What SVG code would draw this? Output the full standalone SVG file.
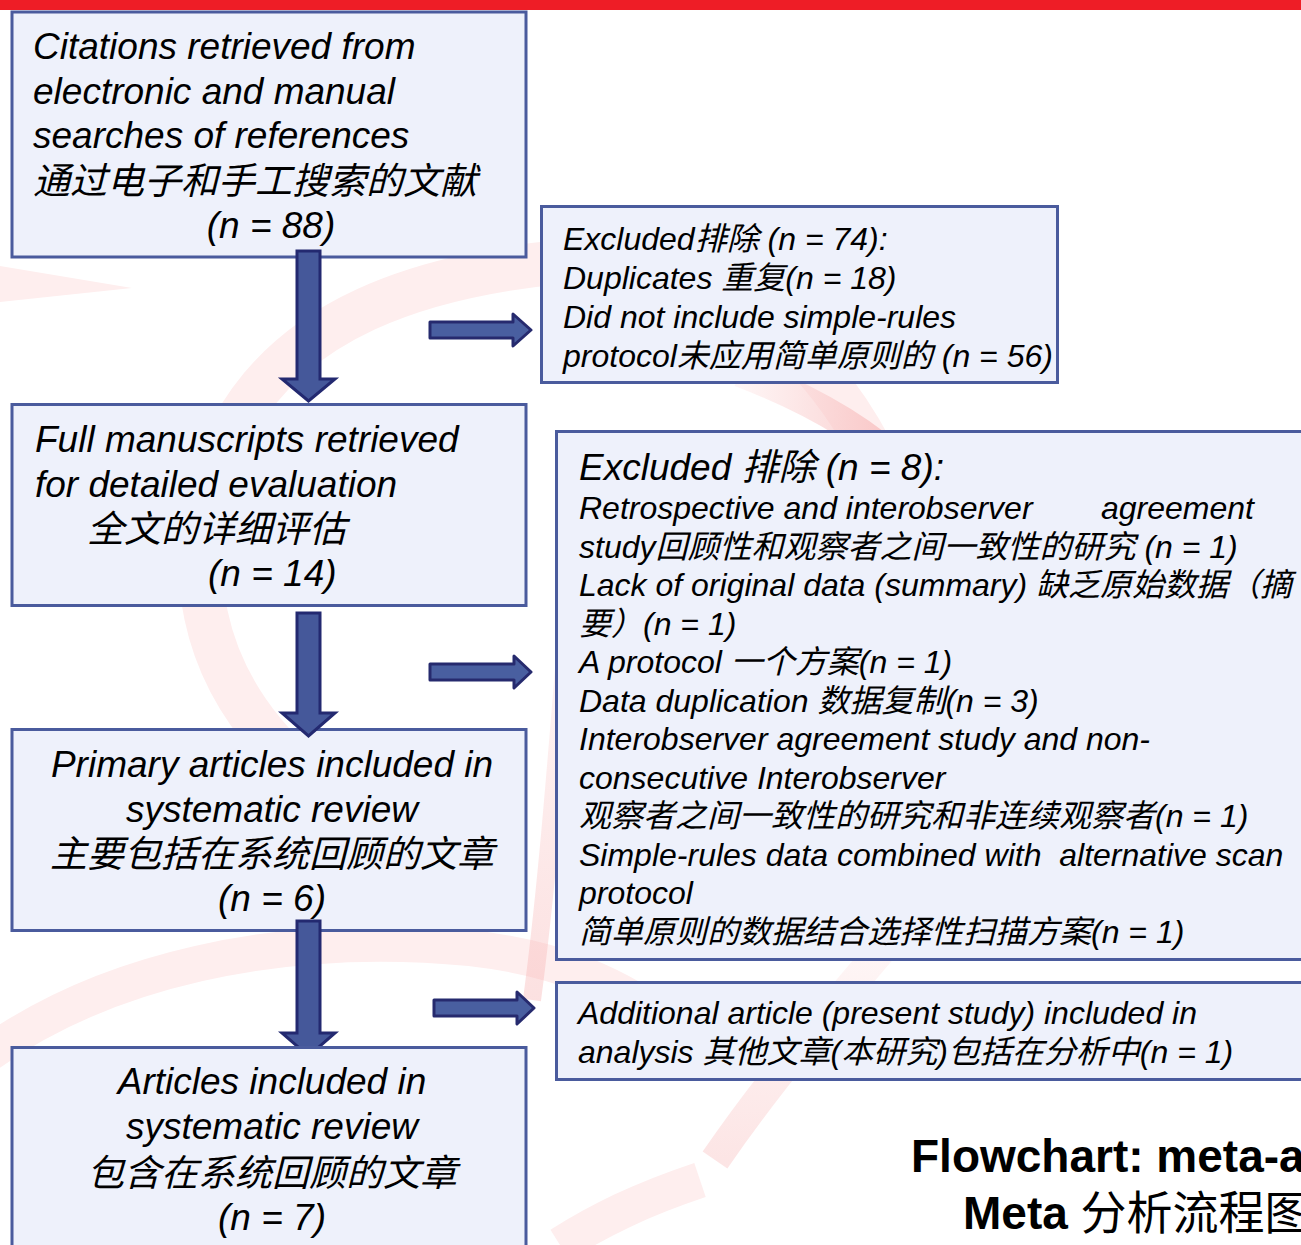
<svg xmlns="http://www.w3.org/2000/svg" width="1301" height="1245" viewBox="0 0 1301 1245">
<defs>
<style>
.box{fill:#eef1fb;stroke:#4a5b9d;stroke-width:3}
.t{font-family:"Liberation Sans","Noto Sans CJK SC",sans-serif;font-style:italic;fill:#000}
.b37{font-size:37px}
.b32{font-size:32px}
.c{text-anchor:middle}
.down{fill:#45589a;stroke:#232970;stroke-width:3;stroke-linejoin:miter}
.right{fill:#4a5ea0;stroke:#262b6e;stroke-width:3;stroke-linejoin:round}
.swirl{fill:none;stroke:#feeeee}
.title{font-family:"Liberation Sans","Noto Sans CJK SC",sans-serif;font-weight:bold;font-size:46px;fill:#000}
</style>
<linearGradient id="redA" x1="0" y1="0" x2="1" y2="0">
<stop offset="0" stop-color="#feeeee"/>
<stop offset="1" stop-color="#f4a0a0"/>
</linearGradient>
<linearGradient id="redB" x1="0" y1="0" x2="0" y2="1">
<stop offset="0" stop-color="#fde4e4"/>
<stop offset="1" stop-color="#f6a8a8"/>
</linearGradient>
<clipPath id="clipA3"><rect x="0" y="900" width="600" height="146"/></clipPath>
<filter id="soft" x="-10%" y="-30%" width="120%" height="160%"><feGaussianBlur stdDeviation="0.7"/></filter>
</defs>

<rect x="0" y="0" width="1301" height="1245" fill="#ffffff"/>

<g id="background">
<polygon points="0,266 132,288 0,302" fill="#feeeee"/>
<path class="swirl" stroke-width="44" d="M 300 770 C 200 680 172 560 232 430 C 292 318 420 276 560 262 C 700 250 800 330 860 430 C 900 500 930 560 950 620"/>
<path class="swirl" stroke-width="36" d="M -20 1060 C 100 970 280 930 470 948 C 560 958 620 985 680 1030"/>
<path fill="none" stroke="url(#redA)" stroke-width="30" d="M 740 372 C 800 395 860 425 905 470" opacity="0.55"/>
<path fill="none" stroke="url(#redB)" stroke-width="18" d="M 568 620 C 558 740 548 880 532 1000" opacity="0.35"/>
<path fill="none" stroke="url(#redB)" stroke-width="30" d="M 890 940 C 830 1010 770 1080 715 1160" opacity="0.3"/>
<path class="swirl" stroke-width="36" d="M 560 1245 C 600 1220 640 1200 700 1180"/>
</g>

<rect x="0" y="0" width="1301" height="10" fill="#ee1d26"/>

<g id="nodes">
<g id="n1">
<rect class="box" x="12" y="12" width="514" height="245"/>
<text class="t b37" x="33" y="59">Citations retrieved from</text>
<text class="t b37" x="33" y="104">electronic and manual</text>
<text class="t b37" x="33" y="148">searches of references</text>
<text class="t b37" x="33" y="194">通过电子和手工搜索的文献</text>
<text class="t b37 c" x="271" y="238">(n = 88)</text>
</g>
<g id="n2">
<rect class="box" x="541.5" y="206.5" width="516" height="176"/>
<text class="t b32" x="563" y="250">Excluded排除 (n = 74):</text>
<text class="t b32" x="563" y="289">Duplicates 重复(n = 18)</text>
<text class="t b32" x="563" y="328">Did not include simple-rules</text>
<text class="t b32" x="563" y="367">protocol未应用简单原则的 (n = 56)</text>
</g>
<g id="n3">
<rect class="box" x="12" y="404.5" width="514" height="201"/>
<text class="t b37" x="35" y="452">Full manuscripts retrieved</text>
<text class="t b37" x="35" y="497">for detailed evaluation</text>
<text class="t b37" x="87" y="542">全文的详细评估</text>
<text class="t b37" x="208" y="586">(n = 14)</text>
</g>
<g id="n4">
<rect class="box" x="556.5" y="431.5" width="760" height="528"/>
<text class="t b37" x="579" y="480">Excluded 排除 (n = 8):</text>
<text class="t b32" x="579" y="519">Retrospective and interobserver<tspan x="1101">agreement</tspan></text>
<text class="t b32" x="579" y="558">study回顾性和观察者之间一致性的研究 (n = 1)</text>
<text class="t b32" x="579" y="596">Lack of original data (summary) 缺乏原始数据（摘</text>
<text class="t b32" x="579" y="635">要）(n = 1)</text>
<text class="t b32" x="579" y="673">A protocol 一个方案(n = 1)</text>
<text class="t b32" x="579" y="712">Data duplication 数据复制(n = 3)</text>
<text class="t b32" x="579" y="750">Interobserver agreement study and non-</text>
<text class="t b32" x="579" y="789">consecutive Interobserver</text>
<text class="t b32" x="579" y="827">观察者之间一致性的研究和非连续观察者(n = 1)</text>
<text class="t b32" x="579" y="866" style="white-space:pre">Simple-rules data combined with  alternative scan</text>
<text class="t b32" x="579" y="904">protocol</text>
<text class="t b32" x="579" y="943">简单原则的数据结合选择性扫描方案(n = 1)</text>
</g>
<g id="n5">
<rect class="box" x="12" y="729.5" width="514" height="201"/>
<text class="t b37 c" x="272" y="777">Primary articles included in</text>
<text class="t b37 c" x="272" y="822">systematic review</text>
<text class="t b37 c" x="272" y="867">主要包括在系统回顾的文章</text>
<text class="t b37 c" x="272" y="911">(n = 6)</text>
</g>
<g id="n6">
<rect class="box" x="556.5" y="982.5" width="760" height="97"/>
<text class="t b32" x="578" y="1024">Additional article (present study) included in</text>
<text class="t b32" x="578" y="1063">analysis 其他文章(本研究)包括在分析中(n = 1)</text>
</g>
<g id="n7">
<rect class="box" x="12" y="1047.5" width="514" height="220"/>
<text class="t b37 c" x="272" y="1094">Articles included in</text>
<text class="t b37 c" x="272" y="1139">systematic review</text>
<text class="t b37 c" x="272" y="1186">包含在系统回顾的文章</text>
<text class="t b37 c" x="272" y="1230">(n = 7)</text>
</g>
</g>

<g id="connectors">
<polygon class="down" points="297,251 320,251 320,379 335,379 308.5,401 282,379 297,379"/>
<polygon class="down" points="297,613 320,613 320,713 335,713 308.5,736 282,713 297,713"/>
<polygon class="down" clip-path="url(#clipA3)" points="297,921 320,921 320,1033 335,1033 308.5,1056 282,1033 297,1033"/>
<polygon class="right" filter="url(#soft)" points="430,322 513,322 513,314 531,330 513,346 513,338 430,338"/>
<polygon class="right" filter="url(#soft)" points="430,664 514,664 514,656 531,672 514,688 514,680 430,680"/>
<polygon class="right" filter="url(#soft)" points="434,1000 517,1000 517,992 534,1008 517,1024 517,1016 434,1016"/>
</g>

<g id="title">
<text class="title" x="911" y="1172">Flowchart: meta-analysis</text>
<text class="title" x="963" y="1229">Meta <tspan font-weight="normal">分析流程图</tspan></text>
</g>
</svg>
